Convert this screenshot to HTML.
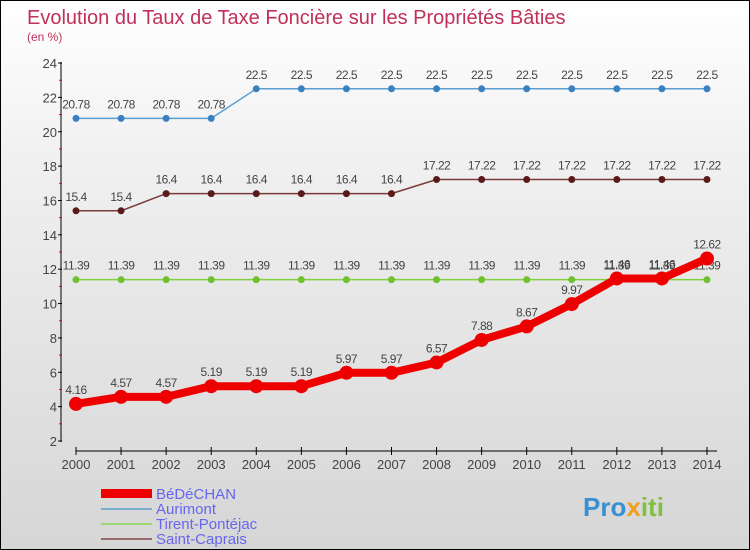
<!DOCTYPE html>
<html><head><meta charset="utf-8"><style>
body{margin:0;width:750px;height:550px;overflow:hidden;font-family:"Liberation Sans",sans-serif}
#wrap{position:relative;width:748px;height:548px;border:1px solid #000;background:linear-gradient(#ffffff,#f0f0f0 30%,#d6d6d6)}
</style></head><body>
<div id="wrap">
<svg id="svg" width="748" height="548" style="position:absolute;left:0;top:0">
<text x="26" y="23" font-size="20" fill="#c0305a">Evolution du Taux de Taxe Foncière sur les Propriétés Bâties</text>
<text x="26" y="40" font-size="12" fill="#c0305a">(en %)</text>
<g id="axes"></g><g id="series"></g>
<g>
<rect x="100" y="488" width="51" height="9" fill="#e00"/>
<text x="155" y="498" font-size="15" fill="#6666ee">BéDéCHAN</text>
<rect x="100" y="507" width="51" height="2" fill="#7aaed0"/>
<text x="155" y="513" font-size="15" fill="#6666ee">Aurimont</text>
<rect x="100" y="522" width="51" height="2" fill="#9ed870"/>
<text x="155" y="528" font-size="15" fill="#6666ee">Tirent-Pontéjac</text>
<rect x="100" y="537" width="51" height="2" fill="#9a6a6a"/>
<text x="155" y="543" font-size="15" fill="#6666ee">Saint-Caprais</text>
</g>
<text x="582" y="515" font-size="26" font-weight="bold" fill="#3a8fd0">Pro<tspan fill="#f0a020">x</tspan><tspan fill="#80c040">iti</tspan></text>
</svg>
</div>
<script>
const years=[2000,2001,2002,2003,2004,2005,2006,2007,2008,2009,2010,2011,2012,2013,2014];
const yTicks=[2,4,6,8,10,12,14,16,18,20,22,24];
const bedechan=[4.16,4.57,4.57,5.19,5.19,5.19,5.97,5.97,6.57,7.88,8.67,9.97,11.46,11.46,12.62];
const aurimont=[20.78,20.78,20.78,20.78,22.5,22.5,22.5,22.5,22.5,22.5,22.5,22.5,22.5,22.5,22.5];
const tirent=[11.39,11.39,11.39,11.39,11.39,11.39,11.39,11.39,11.39,11.39,11.39,11.39,11.39,11.39,11.39];
const caprais=[15.4,15.4,16.4,16.4,16.4,16.4,16.4,16.4,17.22,17.22,17.22,17.22,17.22,17.22,17.22];
const NS="http://www.w3.org/2000/svg";
const X=i=>75+i*45.07;
const Y=v=>440-(v-2)*17.18;
function mk(t,a,p){const e=document.createElementNS(NS,t);for(const k in a)e.setAttribute(k,a[k]);p.appendChild(e);return e;}
const ax=document.getElementById('axes'),sg=document.getElementById('series');
let e=mk('line',{x1:60,y1:61,x2:60,y2:441,stroke:'#000'},ax);


e=mk('line',{x1:75,y1:450,x2:716,y2:450,stroke:'#000'},ax);


yTicks.forEach((v,i)=>{mk('line',{x1:57,y1:Y(v),x2:61,y2:Y(v),stroke:'#000'},ax);
 if(i<yTicks.length-1)mk('line',{x1:58,y1:Y(v+1),x2:61,y2:Y(v+1),stroke:'#e00'},ax);
 const t=mk('text',{x:56,y:Y(v)+5,'font-size':13,fill:'#444','text-anchor':'end'},ax);t.textContent=v;
 
 });
years.forEach((y,i)=>{mk('line',{x1:X(i),y1:446,x2:X(i),y2:454,stroke:'#000'},ax);
 const t=mk('text',{x:X(i),y:468,'font-size':13,fill:'#444','text-anchor':'middle'},ax);t.textContent=y;
 
 });
function series(d,col,dot,w,r,name,lab){
 const g=mk('g',{},sg);
 
 
 mk('polyline',{points:d.map((v,i)=>X(i)+','+Y(v)).join(' '),fill:'none',stroke:col,'stroke-width':w,'stroke-linejoin':'round'},g);
 d.forEach((v,i)=>{const c=mk('circle',{cx:X(i),cy:Y(v),r:r,fill:dot},g);
  
  
  const t=mk('text',{x:X(i),y:Y(v)-10,'font-size':12,fill:'#444','text-anchor':'middle','letter-spacing':'-0.5'},g);t.textContent=v;});
}
series(aurimont,'#5a9fd4','#3a80c0',1.5,3.5,'series-aurimont');
series(caprais,'#7a3a3a','#5a1a1a',1.5,3.5,'series-saint-caprais');
series(tirent,'#80d040','#70c030',1.5,3.5,'series-tirent-pontejac');
series(bedechan,'#ee0000','#ee0000',8,7,'series-bedechan');
</script>
</body></html>
